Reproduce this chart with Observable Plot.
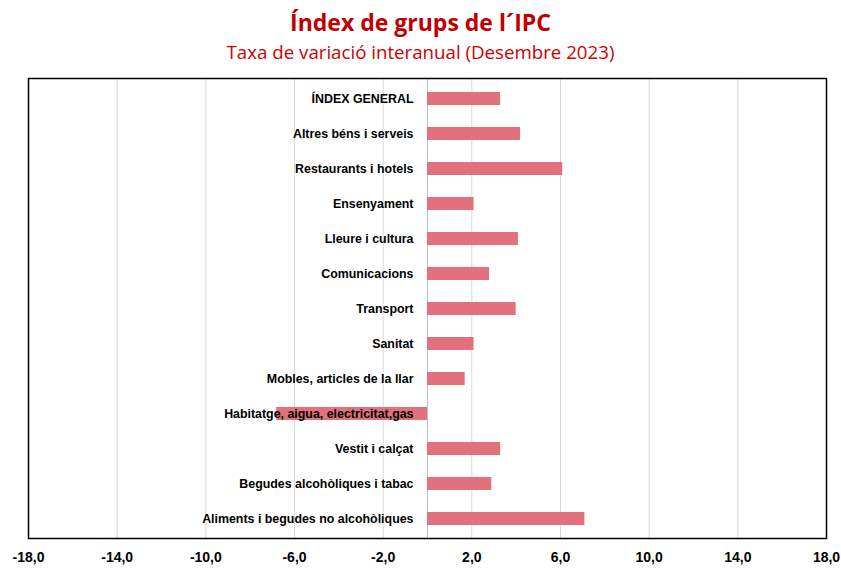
<!DOCTYPE html>
<html>
<head>
<meta charset="utf-8">
<script src="https://cdn.jsdelivr.net/npm/d3@7"></script>
<script src="https://cdn.jsdelivr.net/npm/@observablehq/plot@0.6"></script>
<style>
  html, body { margin: 0; padding: 0; background: #fff; }
  #wrap { width: 841px; }
  .title { height: 40px; line-height: 44px; text-align: center; color: #C00000;
           font-family: "Liberation Sans Narrow", "Open Sans", sans-serif; font-weight: bold; font-size: 23px; }
  .subtitle { height: 26px; line-height: 24px; text-align: center; color: #D00000;
           font-family: "Liberation Sans Narrow", "Open Sans", sans-serif; font-size: 18.7px; }
</style>
</head>
<body>
<div id="wrap">
  <div class="title">Índex de grups de l´IPC</div>
  <div class="subtitle">Taxa de variació interanual (Desembre 2023)</div>
  <div id="chart"></div>
</div>
<script>
const categories = [
  "ÍNDEX GENERAL",
  "Altres béns i serveis",
  "Restaurants i hotels",
  "Ensenyament",
  "Lleure i cultura",
  "Comunicacions",
  "Transport",
  "Sanitat",
  "Mobles, articles de la llar",
  "Habitatge, aigua, electricitat,gas",
  "Vestit i calçat",
  "Begudes alcohòliques i tabac",
  "Aliments i begudes no alcohòliques"
];
const values = [3.3, 4.2, 6.1, 2.1, 4.1, 2.8, 4.0, 2.1, 1.7, -6.8, 3.3, 2.9, 7.1];
const xTicks = [-18, -14, -10, -6, -2, 2, 6, 10, 14, 18];
const gridLines = [-14, -10, -6, -2, 2, 6, 10, 14];

const data = categories.map((c, i) => ({category: c, value: values[i]}));
const fmt = d => d.toFixed(1).replace(".", ",");

const chart = Plot.plot({
  width: 841,
  height: 502,
  marginTop: 12,
  marginBottom: 30,
  marginLeft: 28,
  marginRight: 15,
  style: {fontFamily: "'Liberation Sans Narrow', sans-serif", fontSize: "14px", fontWeight: "bold", color: "#000", background: "#fff"},
  x: {domain: [-18, 18], ticks: xTicks, tickFormat: fmt, tickSize: 0, tickPadding: 14, label: null},
  y: {domain: categories, paddingInner: 0.64, paddingOuter: 0.28, axis: null},
  marks: [
    Plot.ruleX(gridLines, {stroke: "#d9d9d9", strokeWidth: 1}),
    Plot.ruleX([0], {stroke: "#bfbfbf", strokeWidth: 1}),
    Plot.barX(data, {x: "value", y: "category", fill: "#E2707D"}),
    Plot.text(data, {x: () => 0, y: "category", text: "category", textAnchor: "end", dx: -14,
      fill: "#000", fontWeight: "bold", fontSize: 12.4}),
    Plot.frame({stroke: "#000", strokeWidth: 1.5})
  ]
});
document.getElementById("chart").appendChild(chart);
</script>
</body>
</html>
